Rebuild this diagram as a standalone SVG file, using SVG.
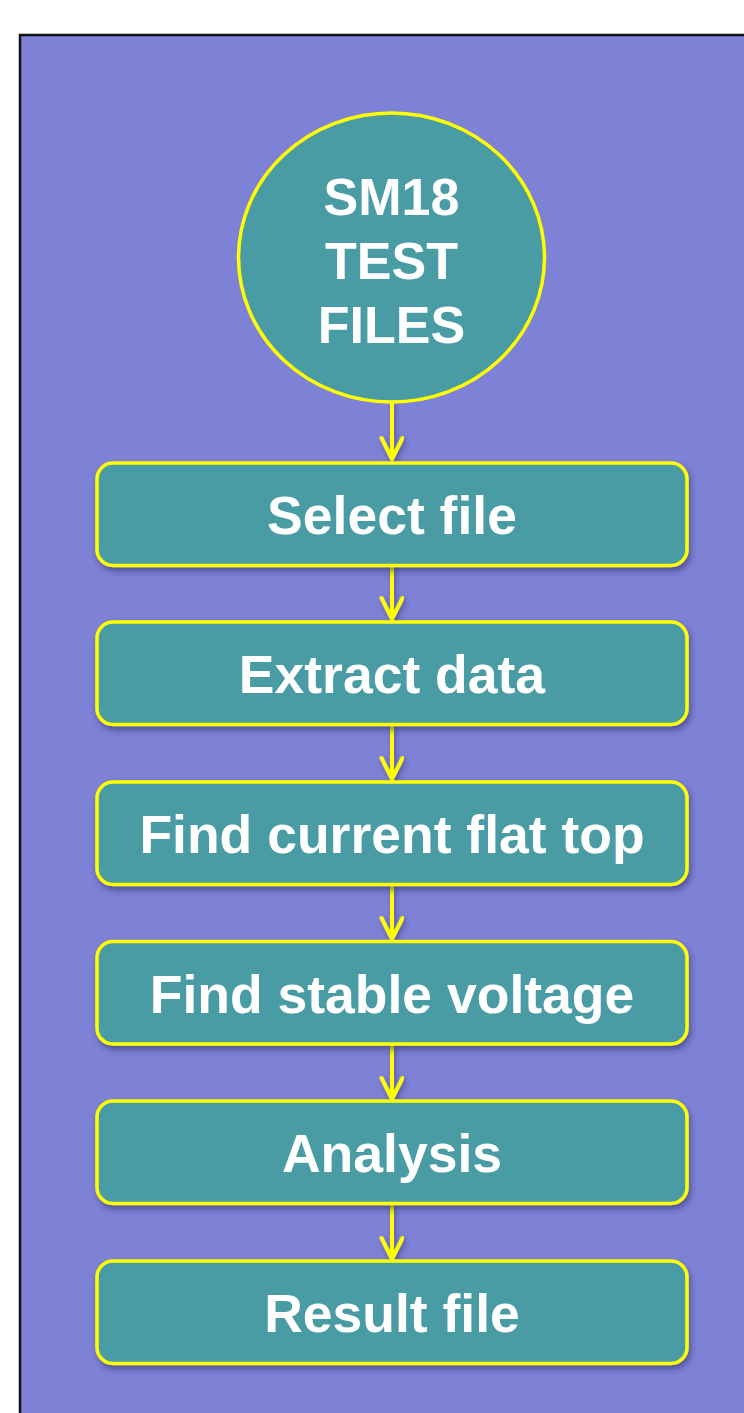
<svg xmlns="http://www.w3.org/2000/svg" width="744" height="1413" viewBox="0 0 744 1413">
<defs>
<style>
.node{fill:#4a9ca4;stroke:#ffff00;stroke-width:3.5}
.lbl{font-family:"Liberation Sans",Arial,sans-serif;font-weight:bold;font-size:52px;fill:#ffffff;text-anchor:middle}
.bl{font-size:53.5px}
.con{stroke:#ffff00;stroke-width:4;fill:none;stroke-linecap:round;stroke-linejoin:round}
</style>
<filter id="sh" x="-10%" y="-10%" width="120%" height="130%">
<feDropShadow dx="2" dy="4" stdDeviation="3" flood-color="#2a2a60" flood-opacity="0.55"/>
</filter>
<filter id="shc" filterUnits="userSpaceOnUse" x="0" y="0" width="744" height="1413">
<feDropShadow dx="2" dy="3" stdDeviation="2.5" flood-color="#2a2a60" flood-opacity="0.5"/>
</filter>
<marker id="ah" markerUnits="userSpaceOnUse" markerWidth="30" markerHeight="30" refX="24" refY="12" orient="auto" viewBox="0 0 30 30">
<path d="M3,1.5 L24,12 L3,22.5" fill="none" stroke="#ffff00" stroke-width="4" stroke-linecap="round" stroke-linejoin="round"/>
</marker>
</defs>
<rect x="0" y="0" width="744" height="1413" fill="#ffffff"/>
<rect x="20" y="35" width="740" height="1400" fill="#7e82d6" stroke="#111111" stroke-width="2.5"/>
<g id="connectors" filter="url(#shc)">
<line class="con" x1="392" y1="403" x2="392" y2="459" marker-end="url(#ah)"/>
<line class="con" x1="392" y1="566" x2="392" y2="619" marker-end="url(#ah)"/>
<line class="con" x1="392" y1="725" x2="392" y2="779" marker-end="url(#ah)"/>
<line class="con" x1="392" y1="885" x2="392" y2="939" marker-end="url(#ah)"/>
<line class="con" x1="392" y1="1044" x2="392" y2="1099" marker-end="url(#ah)"/>
<line class="con" x1="392" y1="1204" x2="392" y2="1259" marker-end="url(#ah)"/>
</g>
<g id="n0">
<ellipse class="node" cx="391.5" cy="257.5" rx="153" ry="144.5" stroke-width="4"/>
<text class="lbl" x="391.5" y="215">SM18</text>
<text class="lbl" x="391.5" y="279">TEST</text>
<text class="lbl" x="391.5" y="343">FILES</text>
</g>
<g id="n1" filter="url(#sh)">
<rect class="node" x="97" y="463" width="590" height="102.5" rx="16"/>
<text class="lbl bl" x="392" y="534">Select file</text>
</g>
<g id="n2" filter="url(#sh)">
<rect class="node" x="97" y="622" width="590" height="102.5" rx="16"/>
<text class="lbl bl" x="392" y="693">Extract data</text>
</g>
<g id="n3" filter="url(#sh)">
<rect class="node" x="97" y="782" width="590" height="102.5" rx="16"/>
<text class="lbl bl" x="392" y="853">Find current flat top</text>
</g>
<g id="n4" filter="url(#sh)">
<rect class="node" x="97" y="941.5" width="590" height="102.5" rx="16"/>
<text class="lbl bl" x="392" y="1012.5">Find stable voltage</text>
</g>
<g id="n5" filter="url(#sh)">
<rect class="node" x="97" y="1101" width="590" height="102.5" rx="16"/>
<text class="lbl bl" x="392" y="1172">Analysis</text>
</g>
<g id="n6" filter="url(#sh)">
<rect class="node" x="97" y="1261" width="590" height="102.5" rx="16"/>
<text class="lbl bl" x="392" y="1332">Result file</text>
</g>
</svg>
